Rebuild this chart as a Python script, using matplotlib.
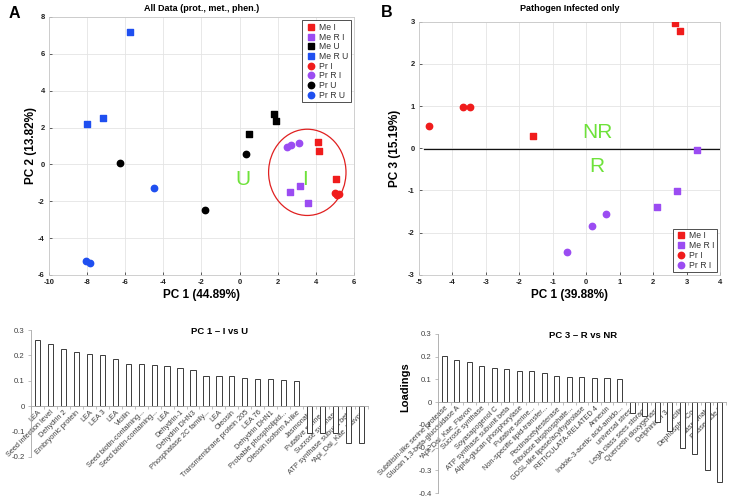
import matplotlib.pyplot as plt
from matplotlib.patches import Ellipse
from matplotlib.lines import Line2D

plt.rcParams['font.family'] = ['Liberation Sans', 'DejaVu Sans']
plt.rcParams['axes.unicode_minus'] = False

# ---- panel A: all data PCA scores (PC1 vs PC2) ----
a_groups = ['Me I', 'Me R I', 'Me U', 'Me R U', 'Pr I', 'Pr R I', 'Pr U', 'Pr R U']
a_x = [
    [4.11, 4.18, 5.07],
    [2.66, 3.15, 3.57],
    [1.78, 1.92, 0.47],
    [-5.77, -7.17, -8.02],
    [4.98, 5.10, 5.21],
    [2.48, 2.71, 3.09],
    [-6.28, 0.33, -1.82],
    [-4.49, -8.04, -7.85],
]
a_y = [
    [1.20, 0.73, -0.78],
    [-1.47, -1.18, -2.10],
    [2.76, 2.38, 1.65],
    [7.20, 2.54, 2.20],
    [-1.54, -1.68, -1.61],
    [0.96, 1.04, 1.18],
    [0.07, 0.58, -2.46],
    [-1.30, -5.24, -5.33],
]

# ---- panel B: pathogen infected only (PC1 vs PC3) ----
b_groups = ['Me I', 'Me R I', 'Pr I', 'Pr R I']
b_x = [
    [2.66, 2.80, -1.60],
    [3.32, 2.72, 2.12],
    [-4.69, -3.68, -3.47],
    [0.59, 0.17, -0.59],
]
b_y = [
    [2.96, 2.78, 0.28],
    [-0.04, -1.02, -1.39],
    [0.53, 0.98, 0.98],
    [-1.56, -1.85, -2.47],
]

# ---- loadings, PC1 (I vs U) ----
pc1_labels = ['LEA', 'Seed infection level', 'Dehydrin 2', 'Embryonic protein', 'LEA', 'LEA 3',
              'LEA', 'Vicilin', 'Seed biotin-containing...', 'Seed biotin-containing...', 'LEA',
              'Dehydrin-1', 'Dehydrin DHN3', 'Phosphatase 2C family...', 'LEA', 'Oleosin',
              'Transmembrane protein 205', 'LEA 76', 'Dehydrin DHN1', 'Probable phospholipid...',
              'Oleosin isoform A-like', 'Jasmonate', 'Putative serine...', 'Sucrose synthase',
              'ATP synthase subunit beta', '*Api_Dai_Kae_Flavon']
pc1_values = [0.262, 0.245, 0.226, 0.214, 0.207, 0.201, 0.187, 0.168, 0.166, 0.162, 0.159,
              0.150, 0.142, 0.120, 0.118, 0.117, 0.112, 0.107, 0.107, 0.104, 0.101,
              -0.106, -0.106, -0.106, -0.145, -0.145]

# ---- loadings, PC3 (R vs NR) ----
pc3_labels = ['Subtilisin-like serine protease', 'Glucan 1,3-beta-glucosidase A',
              '*Api_Dai_Kae_Flavon', 'Sucrose synthase', 'Soyasapogenol C',
              'ATP synthase subunit beta', 'Alpha-glucan phosphorylase', 'Putative serine...',
              'Non-specific lipid-transfer...', 'Pectinacetylesterase', 'Ribulose bisphosphate...',
              'GDSL-like lipase/acylhydrolase', 'RETICULATA-RELATED 4', 'Annexin',
              'Indole-3-acetic acid-amido...', 'universal stress', 'LegA class sees storage',
              'Quercetin dioxygenase', 'Delphinidin 3...', 'Vicilin', 'Dephospho-CoA',
              'Jasmonate', 'Phaseolide B']
pc3_values = [0.203, 0.187, 0.178, 0.158, 0.152, 0.148, 0.139, 0.135, 0.128, 0.114, 0.110,
              0.109, 0.107, 0.106, 0.101,
              -0.049, -0.059, -0.088, -0.129, -0.204, -0.228, -0.297, -0.352]

colors = {'I': '#f01c1c', 'R I': '#9b4cf2', 'U': '#000000', 'R U': '#1f4ff0'}
green = '#6ee23a'


def group_style(name):
    kind, rest = name.split(' ', 1)
    marker = 's' if kind == 'Me' else 'o'
    return marker, colors[rest]


def style_scatter(ax):
    ax.grid(True, color='#e4e4e4', linewidth=0.6)
    ax.set_axisbelow(True)
    for sp in ax.spines.values():
        sp.set_color('#c8c8c8')
        sp.set_linewidth(0.6)
    ax.tick_params(direction='in', length=2, width=0.5, labelsize=5.5, colors='#222222', pad=3)
    for lab in ax.get_xticklabels() + ax.get_yticklabels():
        lab.set_fontweight('bold')


def make_legend(ax, groups, **kw):
    handles = []
    for g in groups:
        m, c = group_style(g)
        handles.append(Line2D([], [], linestyle='none', marker=m, color=c, markersize=4.6, label=g))
    leg = ax.legend(handles=handles, fontsize=6.2, fancybox=False, framealpha=1,
                    edgecolor='#333333', handletextpad=0.3, borderpad=0.3,
                    labelspacing=0.08, handlelength=1.3, **kw)
    leg.get_frame().set_linewidth(0.6)
    for t in leg.get_texts():
        t.set_color('#333333')


fig = plt.figure(figsize=(7.29, 4.97), dpi=100)

# panel A
axA = fig.add_axes([0.0672, 0.4467, 0.4184, 0.5191])
for g, xs, ys in zip(a_groups, a_x, a_y):
    m, c = group_style(g)
    axA.scatter(xs, ys, marker=m, s=21, color=c, zorder=3)
axA.add_patch(Ellipse((3.55, -0.43), 4.06, 4.68, fill=False, edgecolor='#e02020', linewidth=0.9, zorder=2))
axA.text(0.17, -0.8, 'U', color=green, fontsize=15, ha='center', va='center')
axA.text(3.44, -0.8, 'I', color=green, fontsize=15, ha='center', va='center')
axA.set_xlim(-10, 6)
axA.set_ylim(-6, 8)
axA.set_xticks(range(-10, 7, 2))
axA.set_yticks(range(-6, 9, 2))
style_scatter(axA)
axA.set_xlabel('PC 1 (44.89%)', fontsize=8.5, fontweight='bold', labelpad=2)
axA.set_ylabel('PC 2 (13.82%)', fontsize=8.5, fontweight='bold', labelpad=0.5)
axA.set_title('All Data (prot., met., phen.)', fontsize=6.5, fontweight='bold', pad=4)
make_legend(axA, a_groups, loc='upper right', borderaxespad=0.4)

# panel B
axB = fig.add_axes([0.5748, 0.4473, 0.4129, 0.5090])
for g, xs, ys in zip(b_groups, b_x, b_y):
    m, c = group_style(g)
    axB.scatter(xs, ys, marker=m, s=21, color=c, zorder=3)
axB.plot([-4.86, 4.05], [-0.03, -0.03], color='#111111', linewidth=0.9, zorder=2)
axB.text(0.33, 0.37, 'NR', color=green, fontsize=15, ha='center', va='center')
axB.text(0.33, -0.44, 'R', color=green, fontsize=15, ha='center', va='center')
axB.set_xlim(-5, 4)
axB.set_ylim(-3, 3)
axB.set_xticks(range(-5, 5))
axB.set_yticks(range(-3, 4))
style_scatter(axB)
axB.set_xlabel('PC 1 (39.88%)', fontsize=8.5, fontweight='bold', labelpad=2)
axB.set_ylabel('PC 3 (15.19%)', fontsize=8.5, fontweight='bold', labelpad=5)
axB.set_title('Pathogen Infected only', fontsize=6.5, fontweight='bold', pad=8)
make_legend(axB, b_groups, loc='lower right', borderaxespad=0.3)

fig.text(0.012, 0.972, 'A', fontsize=11.5, fontweight='bold', va='center')
fig.text(0.522, 0.975, 'B', fontsize=11.5, fontweight='bold', va='center')


def loading_bars(ax, labels, values, ylim, yticks):
    pos = list(range(len(labels)))
    ax.bar(pos, values, width=0.4, color='white', edgecolor='#3a3a3a', linewidth=0.7, zorder=2)
    ax.set_xlim(-0.5, len(labels) - 0.5)
    ax.set_ylim(*ylim)
    ax.set_yticks(yticks)
    ax.set_yticklabels(['0' if v == 0 else f'{v:g}' for v in yticks])
    ax.spines['top'].set_visible(False)
    ax.spines['right'].set_visible(False)
    ax.spines['bottom'].set_position(('data', 0))
    ax.spines['bottom'].set_color('#a6a6a6')
    ax.spines['left'].set_color('#a6a6a6')
    ax.spines['bottom'].set_linewidth(0.6)
    ax.spines['left'].set_linewidth(0.6)
    ax.set_xticks(pos)
    ax.set_xticklabels(labels, rotation=45, ha='right', va='top', rotation_mode='anchor',
                       fontsize=5.3, color='#404040')
    ax.set_xticks([p + 0.5 for p in pos[:-1]] + [-0.5, len(labels) - 0.5], minor=True)
    ax.tick_params(axis='x', which='major', length=0, pad=2)
    ax.tick_params(axis='x', which='minor', direction='out', length=2.5, width=0.5, color='#a6a6a6')
    ax.tick_params(axis='y', direction='out', length=2.5, width=0.5, color='#a6a6a6',
                   labelsize=5.6, labelcolor='#404040', pad=2)
    ax.patch.set_alpha(0)


axC = fig.add_axes([0.0425, 0.0805, 0.4623, 0.2555])
loading_bars(axC, pc1_labels, pc1_values, (-0.2, 0.3), [-0.2, -0.1, 0, 0.1, 0.2, 0.3])
fig.text(220 / 729, 1 - 331 / 497, 'PC 1 – I vs U', fontsize=6.8, fontweight='bold', ha='center', va='center')

axD = fig.add_axes([0.6008, 0.008, 0.395, 0.3200])
loading_bars(axD, pc3_labels, pc3_values, (-0.4, 0.3), [-0.4, -0.3, -0.2, -0.1, 0, 0.1, 0.2, 0.3])
fig.text(583 / 729, 1 - 335 / 497, 'PC 3 – R vs NR', fontsize=6.8, fontweight='bold', ha='center', va='center')
fig.text(405 / 729, 1 - 387 / 497, 'Loadings', fontsize=8, fontweight='bold', rotation=90,
         ha='center', va='center')

fig.savefig('out.png', dpi=100)
